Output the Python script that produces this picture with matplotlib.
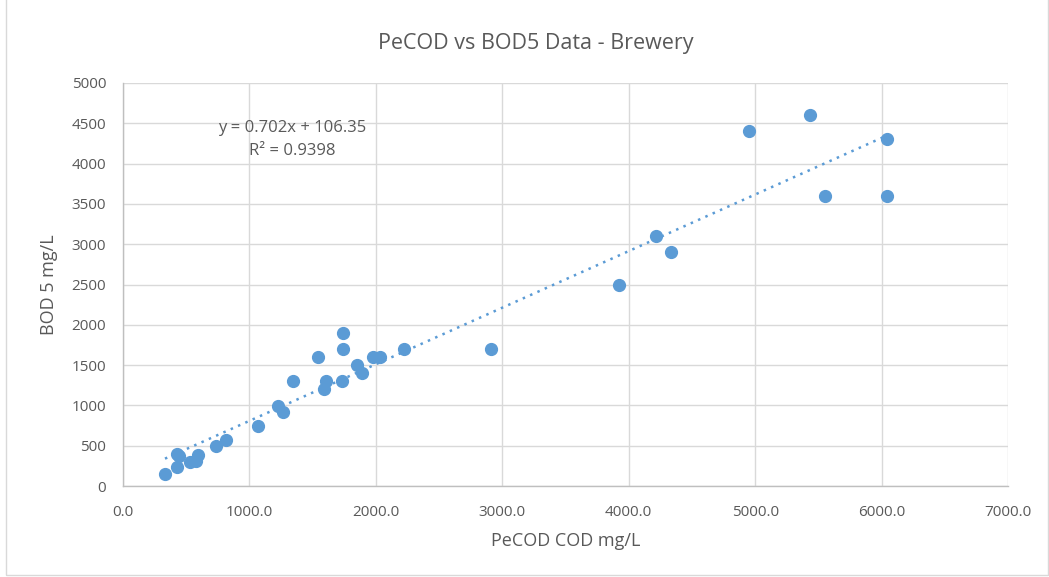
import numpy as np
import matplotlib
matplotlib.use("Agg")
import matplotlib.pyplot as plt
from matplotlib.patches import Rectangle

plt.rcParams['font.family'] = ['Open Sans', 'DejaVu Sans']

# ================= data =================
pecod = [332, 424, 443, 430, 530, 577, 590, 733, 812, 1070,
         1228, 1267, 1341, 1544, 1602, 1592, 1737, 1737, 1729, 1847,
         1892, 1979, 2032, 2221, 2907, 3921, 4213, 4332, 4949, 5431,
         5549, 6040, 6040]
bod5 = [150, 400, 370, 230, 300, 310, 385, 500, 571, 748,
        993, 914, 1300, 1600, 1300, 1200, 1900, 1700, 1300, 1500,
        1400, 1600, 1600, 1700, 1700, 2500, 3100, 2900, 4400, 4600,
        3600, 4300, 3600]

slope, intercept = 0.702, 106.35
r2_text = "R\u00b2 = 0.9398"
eq_text = "y = 0.702x + 106.35"

xticks = np.arange(0, 7001, 1000)
yticks = np.arange(0, 5001, 500)

TEXT_COLOR = '#595959'
POINT_COLOR = '#5B9BD5'
GRID_COLOR = '#D9D9D9'

# ================= plot =================
fig = plt.figure(figsize=(10.49, 5.77), dpi=100)
ax = fig.add_axes([123/1049, 1 - 486/577, (1008-123)/1049, (486-83)/577])

fig.patches.append(Rectangle((0.006, 0.003), 0.993, 1.0, transform=fig.transFigure,
                             fill=False, edgecolor='#D9D9D9', linewidth=1))

xs = np.array([min(pecod), max(pecod)])
ax.plot(xs, slope * xs + intercept, linestyle=(0, (1, 2.2)), color=POINT_COLOR,
        linewidth=1.8, zorder=2)
ax.plot(pecod, bod5, 'o', color=POINT_COLOR, markersize=8.5, zorder=3)

ax.set_xlim(0, 7000)
ax.set_ylim(0, 5000)
ax.set_xticks(xticks)
ax.set_xticklabels([f"{v:.1f}" for v in xticks])
ax.set_yticks(yticks)
ax.set_yticklabels([str(v) for v in yticks])

ax.grid(True, color=GRID_COLOR, linewidth=1)
ax.set_axisbelow(True)
for s in ['top', 'right']:
    ax.spines[s].set_visible(False)
for s in ['left', 'bottom']:
    ax.spines[s].set_color('#BFBFBF')
    ax.spines[s].set_linewidth(1)
ax.tick_params(axis='both', length=0, labelsize=11, colors=TEXT_COLOR)
ax.tick_params(axis='x', pad=14)
ax.tick_params(axis='y', pad=12)

ax.text(1336, 4442, eq_text, ha='center', va='center', fontsize=12, color=TEXT_COLOR)
ax.text(1336, 4156, r2_text, ha='center', va='center', fontsize=12, color=TEXT_COLOR)

fig.text(536/1049, 1 - 43/577, "PeCOD vs BOD5 Data - Brewery",
         ha='center', va='center', fontsize=15.5, color=TEXT_COLOR)
ax.set_xlabel("PeCOD COD mg/L", fontsize=13, color=TEXT_COLOR, labelpad=8)
ax.set_ylabel("BOD 5 mg/L", fontsize=13, color=TEXT_COLOR, labelpad=10)

fig.savefig("out.png", dpi=100, facecolor='white')
